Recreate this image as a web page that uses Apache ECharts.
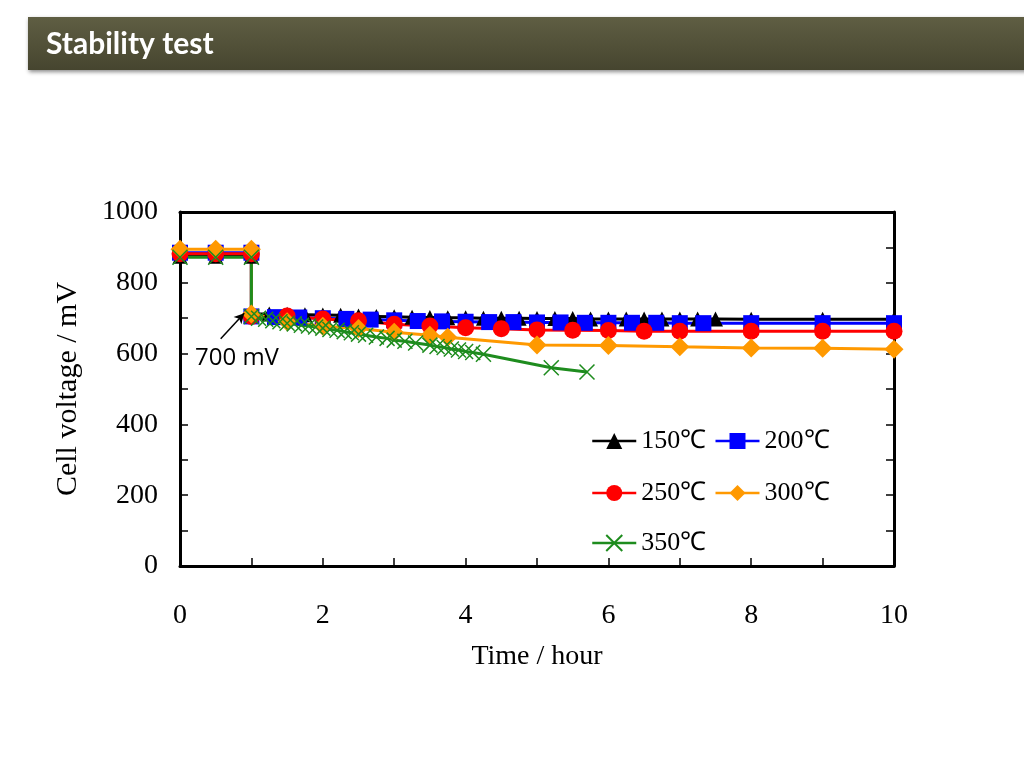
<!DOCTYPE html>
<html>
<head>
<meta charset="utf-8">
<script src="https://cdn.jsdelivr.net/npm/echarts@6/dist/echarts.min.js"></script>
<style>html,body{margin:0;padding:0;background:#fff;}#c{width:1024px;height:768px;}</style>
</head>
<body>
<div id="c"></div>
<script>
// ---- data ----
const seriesNames = ['150℃', '200℃', '250℃', '300℃', '350℃'];
const xTicks = [0, 2, 4, 6, 8, 10];
const yTicks = [0, 200, 400, 600, 800, 1000];

const t150 = [0,0.5,1,1,1.25,1.5,1.75,2,2.25,2.5,2.75,3,3.25,3.5,3.75,4,4.25,4.5,4.75,5,5.25,5.5,5.75,6,6.25,6.5,6.75,7,7.25,7.5,8,9,10];
const v150 = [875,875,875,712,712,711,710,709,708,706,705,704,703,702,701,701,700,700,700,699,699,699,698,698,698,698,698,698,698,698,697,697,697];

const t200 = [0,0.5,1,1,1.33,1.67,2,2.33,2.67,3,3.33,3.67,4,4.33,4.67,5,5.33,5.67,6,6.33,6.67,7,7.33,8,9,10];
const v200 = [885,885,885,705,703,702,700,698,696,694,692,691,690,689,689,688,688,687,687,687,687,686,686,686,686,686];

const t250 = [0,0.5,1,1,1.5,2,2.5,3,3.5,4,4.5,5,5.5,6,6.5,7,8,9,10];
const v250 = [882,882,882,705,706,698,693,683,678,673,670,667,666,665,663,663,663,663,663];

const t300 = [0,0.5,1,1,1.5,2,2.5,3,3.5,3.75,5,6,7,8,9,10];
const v300 = [895,895,895,712,690,677,671,660,652,646,624,623,619,616,615,612];

const t350 = [0,0.5,1,1,1.1,1.2,1.3,1.4,1.5,1.6,1.7,1.8,1.9,2.0,2.1,2.2,2.3,2.4,2.5,2.6,2.75,2.9,3.0,3.15,3.3,3.5,3.6,3.7,3.8,3.9,4.0,4.1,4.25,5.2,5.7];
const v350 = [872,872,872,705,700,697,693,690,686,684,680,678,675,672,668,666,662,659,655,652,647,643,638,635,630,624,620,617,613,610,606,603,598,560,548];

// ---- chart ----
const chart = echarts.init(document.getElementById('c'));
const serif = '"Liberation Serif", "Times New Roman", serif';
function pairs(t, v) { return t.map((x, i) => [x, v[i]]); }
const crossPath = 'path://M0,0 L10,10 M10,0 L0,10';

const styles = [
  { color: '#000000', symbol: 'triangle', size: 15 },
  { color: '#0000ff', symbol: 'rect', size: 16 },
  { color: '#ff0000', symbol: 'circle', size: 17 },
  { color: '#ff9900', symbol: 'diamond', size: 19 },
  { color: '#1e8c1e', symbol: crossPath, size: 15 }
];
const dataSets = [pairs(t150, v150), pairs(t200, v200), pairs(t250, v250), pairs(t300, v300), pairs(t350, v350)];

const series = seriesNames.map((name, i) => {
  const s = styles[i];
  const isCross = i === 4;
  return {
    name: name,
    type: 'line',
    data: dataSets[i],
    symbol: s.symbol,
    symbolSize: s.size,
    showAllSymbol: true,
    animation: false,
    lineStyle: { color: s.color, width: 3 },
    itemStyle: isCross
      ? { color: 'rgba(0,0,0,0)', borderColor: s.color, borderWidth: 1.5 }
      : { color: s.color, borderColor: s.color, borderWidth: 0 },
    emphasis: { disabled: true }
  };
});
// annotation arrow (in data space)
series[0].markLine = {
  silent: true,
  animation: false,
  symbol: ['none', 'arrow'],
  symbolSize: [8, 10],
  label: { show: false },
  lineStyle: { color: '#000', width: 1.5, type: 'solid' },
  data: [[{ coord: [0.57, 642] }, { coord: [0.9, 714] }]]
};

const legendText = { fontFamily: serif, fontSize: 26, color: '#000' };
const legendBase = {
  orient: 'horizontal', itemWidth: 44, itemHeight: 20, itemGap: 8,
  textStyle: legendText, selectedMode: false, left: 586,
  lineStyle: { width: 2.5 }
};

chart.setOption({
  animation: false,
  backgroundColor: '#ffffff',
  grid: { left: 180, top: 212, width: 714, height: 354, containLabel: false },
  legend: [
    Object.assign({}, legendBase, { top: 423, data: [seriesNames[0], seriesNames[1]] }),
    Object.assign({}, legendBase, { top: 475, data: [seriesNames[2], seriesNames[3]] }),
    Object.assign({}, legendBase, { top: 525, data: [seriesNames[4]] })
  ],
  xAxis: [{
    type: 'value', min: 0, max: 10, interval: 1, position: 'bottom',
    name: 'Time / hour', nameLocation: 'middle', nameGap: 77,
    nameTextStyle: { fontFamily: serif, fontSize: 28, color: '#000' },
    axisLine: { show: true, onZero: false, lineStyle: { color: '#000', width: 3 } },
    axisTick: { show: true, inside: true, length: 8, lineStyle: { color: '#000', width: 1.5 } },
    axisLabel: { margin: 36, fontFamily: serif, fontSize: 28, color: '#000',
      formatter: v => (xTicks.indexOf(v) >= 0 ? String(v) : '') },
    splitLine: { show: false }
  }, {
    type: 'value', min: 0, max: 10, interval: 1, position: 'top',
    axisLine: { show: true, onZero: false, lineStyle: { color: '#000', width: 3 } },
    axisTick: { show: false }, axisLabel: { show: false }, splitLine: { show: false }
  }],
  yAxis: [{
    type: 'value', min: 0, max: 1000, interval: 100, position: 'left',
    name: 'Cell voltage / mV', nameLocation: 'middle', nameGap: 97,
    nameTextStyle: { fontFamily: serif, fontSize: 30, color: '#000' },
    axisLine: { show: true, onZero: false, lineStyle: { color: '#000', width: 3 } },
    axisTick: { show: true, inside: true, length: 8, lineStyle: { color: '#000', width: 1.5 } },
    axisLabel: { margin: 22, fontFamily: serif, fontSize: 28, color: '#000',
      formatter: v => (yTicks.indexOf(v) >= 0 ? String(v) : '') },
    splitLine: { show: false }
  }, {
    type: 'value', min: 0, max: 1000, interval: 100, position: 'right',
    axisLine: { show: true, onZero: false, lineStyle: { color: '#000', width: 3 } },
    axisTick: { show: true, inside: true, length: 8, lineStyle: { color: '#000', width: 1.5 } },
    axisLabel: { show: false }, splitLine: { show: false }
  }],
  graphic: [
    {
      type: 'rect', left: 28, top: 17, z: 0,
      shape: { width: 1000, height: 53 },
      style: {
        fill: new echarts.graphic.LinearGradient(0, 0, 0, 1, [
          { offset: 0, color: '#5f5e43' }, { offset: 1, color: '#46452f' }
        ]),
        shadowBlur: 4, shadowOffsetY: 2, shadowOffsetX: 1, shadowColor: 'rgba(0,0,0,0.45)'
      }
    },
    {
      type: 'text', left: 46, top: 29, z: 1,
      style: { text: 'Stability test', fill: '#ffffff', font: 'bold 30px Lato, "Open Sans", sans-serif' }
    },
    {
      type: 'text', left: 195, top: 346, z: 10,
      style: { text: '700 mV', fill: '#000', font: '24px "Open Sans", Lato, sans-serif' }
    }
  ],
  series: series
});
</script>
</body>
</html>
